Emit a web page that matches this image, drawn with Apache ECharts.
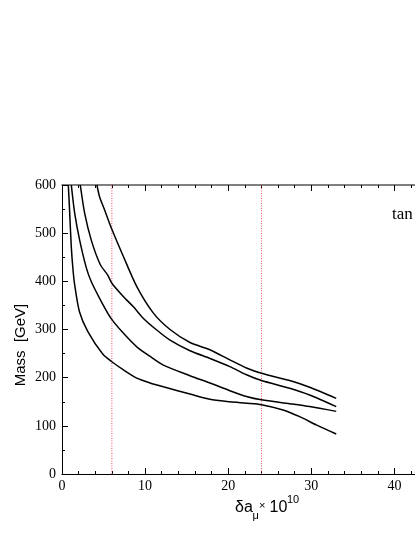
<!DOCTYPE html>
<html>
<head>
<meta charset="utf-8">
<script src="https://cdn.jsdelivr.net/npm/echarts@6/dist/echarts.min.js"></script>
<style>html,body{margin:0;padding:0;background:#fff;}#c{width:415px;height:537px;}</style>
</head>
<body>
<div id="c"></div>
<script>
// data: [delta a_mu x 10^10, Mass GeV]
var curveA = [[0.76,600],[0.93,541],[1.12,471],[1.33,423],[1.53,392],[2.1,337],[3.13,295],[4.9,249],[6,233],[7.4,216],[9,199],[10.6,189],[12.2,181],[15.4,166],[17.8,155],[20.2,150],[22.2,147],[24,144],[26.6,133],[28.6,119],[30.6,102],[33,83]];
var curveB = [[1.12,600],[1.53,541],[2.13,485],[2.93,428],[3.53,399],[4.73,358],[5.9,323],[7.4,292],[9,264],[10.6,244],[12.2,226],[15.4,204],[17.8,189],[20.2,173],[22.2,161],[24,154],[27.4,146],[29.8,140],[33,130]];
var curveC = [[2.2,600],[2.73,541],[3.53,485],[4.6,435],[5.5,413],[6,396],[7.4,368],[8.6,347],[9.8,323],[11.4,299],[13,278],[15.4,256],[17.8,240],[20.2,223],[22.2,206],[24,194],[27.4,178],[29.8,164],[33,140]];
var curveD = [[4.2,600],[4.53,575],[5.13,548],[6,508],[7.4,451],[9,389],[11,334],[13,300],[15.4,273],[17.8,258],[20.2,237],[22.2,220],[24,209],[27.4,194],[29.8,180],[33,157]];
var refLinesX = [6, 24];
var xTicks = [0, 10, 20, 30, 40, 50];
var yTicks = [0, 100, 200, 300, 400, 500, 600];

var chart = echarts.init(document.getElementById('c'), null, {renderer: 'canvas'});
var serif = 'Liberation Serif';

function mkX(pos, showLabel) {
  return {
    type: 'value', position: pos, min: xTicks[0], max: xTicks[xTicks.length - 1], interval: 10,
    axisLine: {show: true, onZero: false, lineStyle: {color: pos === 'top' ? '#555' : '#000', width: pos === 'top' ? 1.5 : 1}},
    axisTick: {show: true, inside: true, length: 6, lineStyle: {color: '#000'}},
    minorTick: {show: true, splitNumber: 5, length: 3, lineStyle: {color: '#000'}},
    axisLabel: {show: showLabel, color: '#000', fontFamily: serif, fontSize: 14, margin: 5},
    splitLine: {show: false}, minorSplitLine: {show: false}
  };
}

var lineSeries = [curveA, curveB, curveC, curveD].map(function (d) {
  return {
    type: 'line', data: d, symbol: 'none', smooth: 0.25, clip: true,
    lineStyle: {color: '#000', width: 1.5}, silent: true, animation: false
  };
});

var refSeries = refLinesX.map(function (x) {
  return {
    type: 'line', data: [[x, yTicks[0]], [x, yTicks[yTicks.length - 1]]], symbol: 'none',
    lineStyle: {color: '#f05060', width: 1, type: [1, 1.5]}, silent: true, animation: false, z: 1
  };
});

chart.setOption({
  animation: false,
  backgroundColor: '#fff',
  grid: {left: 62, top: 185, width: 415.5, height: 289, containLabel: false, outerBoundsMode: 'none'},
  xAxis: [mkX('bottom', true), mkX('top', false)],
  yAxis: {
    type: 'value', min: 0, max: 600, interval: 100,
    axisLine: {show: true, lineStyle: {color: '#000', width: 1}},
    axisTick: {show: true, inside: true, length: 6, lineStyle: {color: '#000'}},
    minorTick: {show: true, splitNumber: 2, length: 3, lineStyle: {color: '#000'}},
    axisLabel: {color: '#000', fontFamily: serif, fontSize: 14, margin: 6},
    splitLine: {show: false}, minorSplitLine: {show: false}
  },
  series: refSeries.concat(lineSeries),
  graphic: [
    {type: 'text', x: 21, y: 345, rotation: Math.PI / 2,
     style: {text: 'Mass  [GeV]', font: '15px "Liberation Sans"', fill: '#000', textAlign: 'center', textVerticalAlign: 'middle'}},
    {type: 'text', x: 235, y: 508, style: {text: 'δa', font: '16px "Liberation Sans"', fill: '#000', textAlign: 'left', textVerticalAlign: 'middle'}},
    {type: 'text', x: 252.5, y: 516, style: {text: 'μ', font: '11px "Liberation Sans"', fill: '#000', textAlign: 'left', textVerticalAlign: 'middle'}},
    {type: 'text', x: 259, y: 506, style: {text: '×', font: '11px "Liberation Sans"', fill: '#000', textAlign: 'left', textVerticalAlign: 'middle'}},
    {type: 'text', x: 269.5, y: 508, style: {text: '10', font: '16px "Liberation Sans"', fill: '#000', textAlign: 'left', textVerticalAlign: 'middle'}},
    {type: 'text', x: 287, y: 500, style: {text: '10', font: '11px "Liberation Sans"', fill: '#000', textAlign: 'left', textVerticalAlign: 'middle'}},
    {type: 'text', x: 392, y: 215, style: {text: 'tan β = 50', font: '17px "Liberation Serif"', fill: '#000', textAlign: 'left', textVerticalAlign: 'middle'}}
  ]
});
</script>
</body>
</html>
